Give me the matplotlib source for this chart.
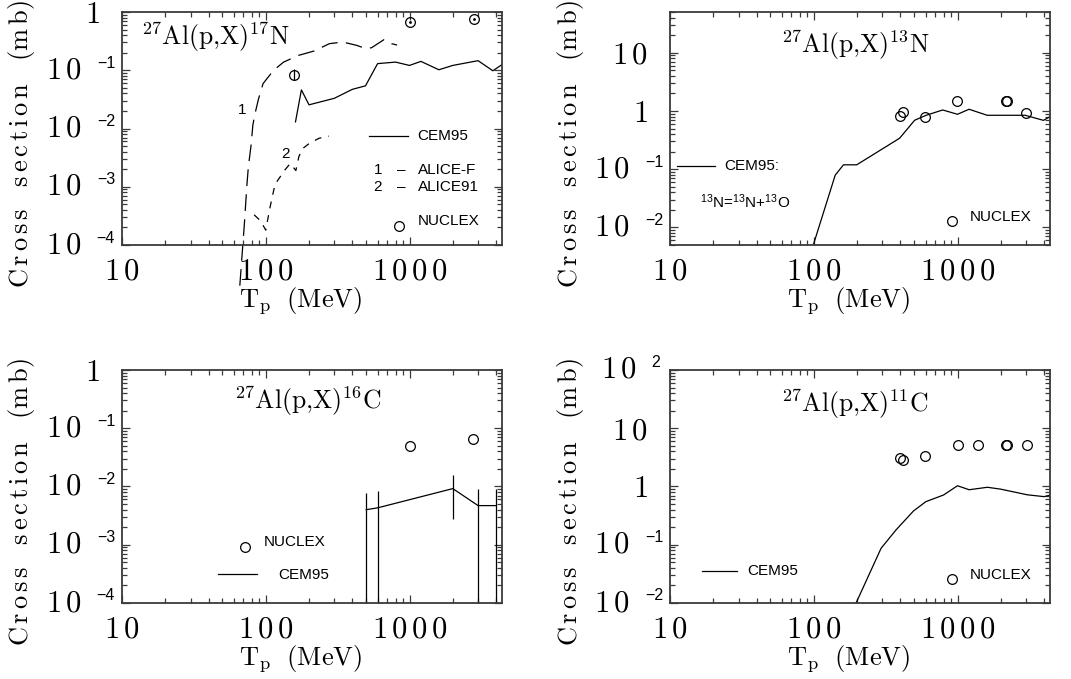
import matplotlib
matplotlib.use("Agg")
import matplotlib.pyplot as plt
from matplotlib.ticker import LogLocator, NullFormatter

# ---------------- data ----------------
tp_ticks = [10, 100, 1000]
tp_tick_labels = ["10", "100", "1000"]

# 27Al(p,X)17N
n17_cem_x = [161, 177, 200, 300, 400, 494, 600, 800, 1000, 1200, 1600, 2000, 3000, 3800, 4400]
n17_cem_y = [0.013, 0.046, 0.0255, 0.033, 0.047, 0.054, 0.13, 0.138, 0.121, 0.142, 0.102, 0.121, 0.146, 0.098, 0.125]
n17_alicef_x = [66, 68.4, 71, 74, 75.7, 79, 81.3, 83.6, 89, 95.8, 113, 133, 169, 217, 277, 344, 430, 500, 545, 664, 750, 820]
n17_alicef_y = [2e-5, 6.6e-5, 2.3e-4, 1.1e-3, 2.2e-3, 5.1e-3, 0.0113, 0.0167, 0.032, 0.059, 0.099, 0.138, 0.18, 0.214,
                0.286, 0.305, 0.267, 0.234, 0.244, 0.335, 0.286, 0.271]
n17_alice91_x = [83, 92, 100, 107, 116, 136, 148, 162, 170, 180, 202, 235, 274]
n17_alice91_y = [3.3e-4, 2.6e-4, 1.8e-4, 4.4e-4, 1.1e-3, 1.95e-3, 2.5e-3, 1.9e-3, 3.3e-3, 4.5e-3, 5.6e-3, 6.8e-3, 7.4e-3]
n17_nuclex_x = [1000, 2800]
n17_nuclex_y = [0.68, 0.75]
n17_exp_x = [157]
n17_exp_y = [0.084]
n17_exp_err_lo = [0.0173]
n17_exp_err_hi = [0.0217]

# 27Al(p,X)13N
n13_cem_x = [100, 141, 161, 199, 396, 503, 605, 789, 1000, 1203, 1609, 2959, 3963, 4400]
n13_cem_y = [5.3e-3, 0.079, 0.119, 0.119, 0.341, 0.692, 0.843, 1.04, 0.877, 1.07, 0.843, 0.843, 0.69, 0.80]
n13_nuclex_x = [396, 418, 598, 995, 2190, 2210, 3006]
n13_nuclex_y = [0.82, 0.96, 0.80, 1.48, 1.48, 1.50, 0.91]

# 27Al(p,X)16C
c16_cem_x = [500, 600, 2000, 3000, 4000]
c16_cem_y = [4.0e-3, 4.3e-3, 9.2e-3, 4.7e-3, 4.7e-3]
c16_cem_err_lo_end = [1e-5, 1e-5, 2.8e-3, 1e-5, 1e-5]
c16_cem_err_hi_end = [7.8e-3, 8.4e-3, 1.57e-2, 9.2e-3, 9.2e-3]
c16_nuclex_x = [1000, 2770]
c16_nuclex_y = [0.050, 0.065]

# 27Al(p,X)11C
c11_cem_x = [197, 294, 373, 494, 603, 800, 1000, 1205, 1615, 2000, 3060, 4000, 4400]
c11_cem_y = [0.010, 0.087, 0.179, 0.38, 0.55, 0.715, 1.03, 0.88, 0.97, 0.90, 0.72, 0.67, 0.71]
c11_nuclex_x = [398, 415, 596, 1000, 1399, 2190, 2210, 3025]
c11_nuclex_y = [3.05, 2.85, 3.38, 5.16, 5.16, 5.16, 5.22, 5.16]

# y tick values and labels (mantissa, exponent)
yt_1e4_1 = [1, 1e-1, 1e-2, 1e-3, 1e-4]
yl_1e4_1 = [("1", None), ("10", "\u22121"), ("10", "\u22122"), ("10", "\u22123"), ("10", "\u22124")]
yt_n13 = [10, 1, 1e-1, 1e-2]
yl_n13 = [("10", None), ("1", None), ("10", "\u22121"), ("10", "\u22122")]
yt_c11 = [100, 10, 1, 1e-1, 1e-2]
yl_c11 = [("10", "2"), ("10", None), ("1", None), ("10", "\u22121"), ("10", "\u22122")]

# ---------------- style ----------------
plt.rcParams.update({
    'mathtext.fontset': 'cm',
    'mathtext.rm': 'Liberation Sans',
    'mathtext.it': 'Liberation Sans:italic',
    'mathtext.bf': 'Liberation Sans:bold',
    'mathtext.sf': 'Liberation Sans',
    'lines.scale_dashes': False,
    'font.family': 'Liberation Sans',
})
FRAME = '#3a3a3a'
SANS = 11
TICKFS = 22
W, H = 1071, 679
fig = plt.figure(figsize=(W / 100, H / 100), dpi=100)


def make_ax(l, t, r, b):
    return fig.add_axes([l / W, 1 - b / H, (r - l) / W, (b - t) / H])


def cm(s):
    return r'$\mathrm{' + r'\,'.join(s) + '}$'


YLAB = r'$\mathrm{C\,r\,o\,s\,s\ \ \ s\,e\,c\,t\,i\,o\,n\ \ \ (m\,b)}$'
XLAB = r'$\mathrm{T_p\ \ (MeV)}$'


def style(ax, ylim, yt, yl):
    ax.set_xscale('log')
    ax.set_yscale('log')
    ax.set_xlim(10, 4400)
    ax.set_ylim(*ylim)
    for axis in (ax.xaxis, ax.yaxis):
        axis.set_major_locator(LogLocator(10, numticks=20))
        axis.set_minor_locator(LogLocator(10, subs=range(2, 10), numticks=20))
        axis.set_major_formatter(NullFormatter())
        axis.set_minor_formatter(NullFormatter())
    ax.tick_params(which='both', direction='in', top=True, right=True,
                   labelbottom=False, labelleft=False, color=FRAME, width=0.9)
    ax.tick_params(which='major', length=6)
    ax.tick_params(which='minor', length=3.5)
    for sp in ax.spines.values():
        sp.set_linewidth(1.3)
        sp.set_color(FRAME)
    for v, lab in zip(tp_ticks, tp_tick_labels):
        ax.annotate(cm(lab), xy=(v, 0), xycoords=('data', 'axes fraction'),
                    xytext=(0, -26), textcoords='offset pixels', ha='center', va='center',
                    fontsize=TICKFS, annotation_clip=False)
    for v, (m, e) in zip(yt, yl):
        if e is None:
            ax.annotate(cm(m), xy=(0, v), xycoords=('axes fraction', 'data'),
                        xytext=(-22, -3), textcoords='offset pixels', ha='right', va='center',
                        fontsize=TICKFS, annotation_clip=False)
        else:
            neg = e.startswith('\u2212')
            ax.annotate(cm(m), xy=(0, v), xycoords=('axes fraction', 'data'),
                        xytext=(-40 if neg else -33, 0), textcoords='offset pixels',
                        ha='right', va='center', fontsize=TICKFS, annotation_clip=False)
            ax.annotate(e, xy=(0, v), xycoords=('axes fraction', 'data'),
                        xytext=(-7 if neg else -10, 7), textcoords='offset pixels',
                        ha='right', va='center', fontsize=11.5, annotation_clip=False)
    ax.text(-100 / 380, 0.5 - 16 / 233, YLAB, rotation=90, transform=ax.transAxes,
            ha='center', va='center', fontsize=19)
    ax.text(0.47, -56 / 233, XLAB, transform=ax.transAxes, ha='center', va='center', fontsize=19)


def nuclex(ax, x, y):
    ax.plot(x, y, 'o', ls='none', mfc='none', mec='k', ms=7, mew=0.9)


def leg_circle(ax, x, y):
    ax.plot([x], [y], 'o', transform=ax.transAxes, mfc='none', mec='k', ms=7, mew=0.9, clip_on=False)


def leg_line(ax, x0, x1, y):
    ax.plot([x0, x1], [y, y], transform=ax.transAxes, color='k', lw=0.9)


def leg_text(ax, x, y, s, **kw):
    ax.text(x, y, s, transform=ax.transAxes, ha=kw.pop('ha', 'left'), va='center', fontsize=SANS, **kw)


def title(ax, x, y, s, ha='center'):
    ax.text(x, y, s, transform=ax.transAxes, ha=ha, va='center', fontsize=18.5)


LC, RC = (122, 502), (670, 1050)
TR, BR = (12, 245), (370, 603)

# ---------------- panel 1: 17N ----------------
ax1 = make_ax(LC[0], TR[0], LC[1], TR[1])
style(ax1, (1e-4, 1), yt_1e4_1, yl_1e4_1)
ax1.plot(n17_cem_x, n17_cem_y, color='k', lw=0.9)
ax1.plot(n17_alicef_x, n17_alicef_y, color='k', lw=0.9, dashes=(12, 6), clip_on=False)
ax1.plot(n17_alice91_x, n17_alice91_y, color='k', lw=0.9, dashes=(5, 5))
nuclex(ax1, n17_nuclex_x, n17_nuclex_y)
ax1.plot(n17_nuclex_x, n17_nuclex_y, '.', color='k', ms=2)
ax1.errorbar(n17_exp_x, n17_exp_y, yerr=[n17_exp_err_lo, n17_exp_err_hi], fmt='o', mfc='none',
             mec='k', ms=7, mew=0.9, ecolor='k', elinewidth=0.9, capsize=0)
title(ax1, 0.05, 0.893, r'$^{27}\mathrm{Al(p{,}X)}^{17}\mathrm{N}$', ha='left')
leg_line(ax1, 0.651, 0.752, 0.466)
leg_text(ax1, 0.778, 0.466, 'CEM95')
leg_text(ax1, 0.673, 0.322, '1', ha='center')
leg_text(ax1, 0.734, 0.322, '\u2013', ha='center')
leg_text(ax1, 0.778, 0.322, 'ALICE-F')
leg_text(ax1, 0.673, 0.251, '2', ha='center')
leg_text(ax1, 0.734, 0.251, '\u2013', ha='center')
leg_text(ax1, 0.778, 0.251, 'ALICE91')
leg_circle(ax1, 0.728, 0.082)
leg_text(ax1, 0.778, 0.103, 'NUCLEX')
leg_text(ax1, 0.317, 0.580, '1', ha='center')
leg_text(ax1, 0.429, 0.390, '2', ha='center')

# ---------------- panel 2: 13N ----------------
ax2 = make_ax(RC[0], TR[0], RC[1], TR[1])
style(ax2, (5e-3, 50), yt_n13, yl_n13)
ax2.plot(n13_cem_x, n13_cem_y, color='k', lw=0.9)
nuclex(ax2, n13_nuclex_x, n13_nuclex_y)
title(ax2, 0.488, 0.857, r'$^{27}\mathrm{Al(p{,}X)}^{13}\mathrm{N}$')
leg_line(ax2, 0.018, 0.119, 0.341)
leg_text(ax2, 0.144, 0.341, 'CEM95:')
leg_text(ax2, 0.079, 0.187, r'$^{13}$N=$^{13}$N+$^{13}$O', math_fontfamily='custom')
leg_circle(ax2, 0.742, 0.105)
leg_text(ax2, 0.79, 0.122, 'NUCLEX')

# ---------------- panel 3: 16C ----------------
ax3 = make_ax(LC[0], BR[0], LC[1], BR[1])
style(ax3, (1e-4, 1), yt_1e4_1, yl_1e4_1)
ax3.plot(c16_cem_x, c16_cem_y, color='k', lw=0.9)
ax3.vlines(c16_cem_x, c16_cem_err_lo_end, c16_cem_err_hi_end, color='k', lw=0.9)
nuclex(ax3, c16_nuclex_x, c16_nuclex_y)
title(ax3, 0.488, 0.864, r'$^{27}\mathrm{Al(p{,}X)}^{16}\mathrm{C}$')
leg_circle(ax3, 0.323, 0.241)
leg_text(ax3, 0.372, 0.262, 'NUCLEX')
leg_line(ax3, 0.253, 0.356, 0.126)
leg_text(ax3, 0.412, 0.122, 'CEM95')

# ---------------- panel 4: 11C ----------------
ax4 = make_ax(RC[0], BR[0], RC[1], BR[1])
style(ax4, (1e-2, 1e2), yt_c11, yl_c11)
ax4.plot(c11_cem_x, c11_cem_y, color='k', lw=0.9)
nuclex(ax4, c11_nuclex_x, c11_nuclex_y)
title(ax4, 0.486, 0.854, r'$^{27}\mathrm{Al(p{,}X)}^{11}\mathrm{C}$')
leg_line(ax4, 0.084, 0.176, 0.138)
leg_text(ax4, 0.203, 0.138, 'CEM95')
leg_circle(ax4, 0.742, 0.105)
leg_text(ax4, 0.79, 0.119, 'NUCLEX')

fig.savefig('out.png', dpi=100)
